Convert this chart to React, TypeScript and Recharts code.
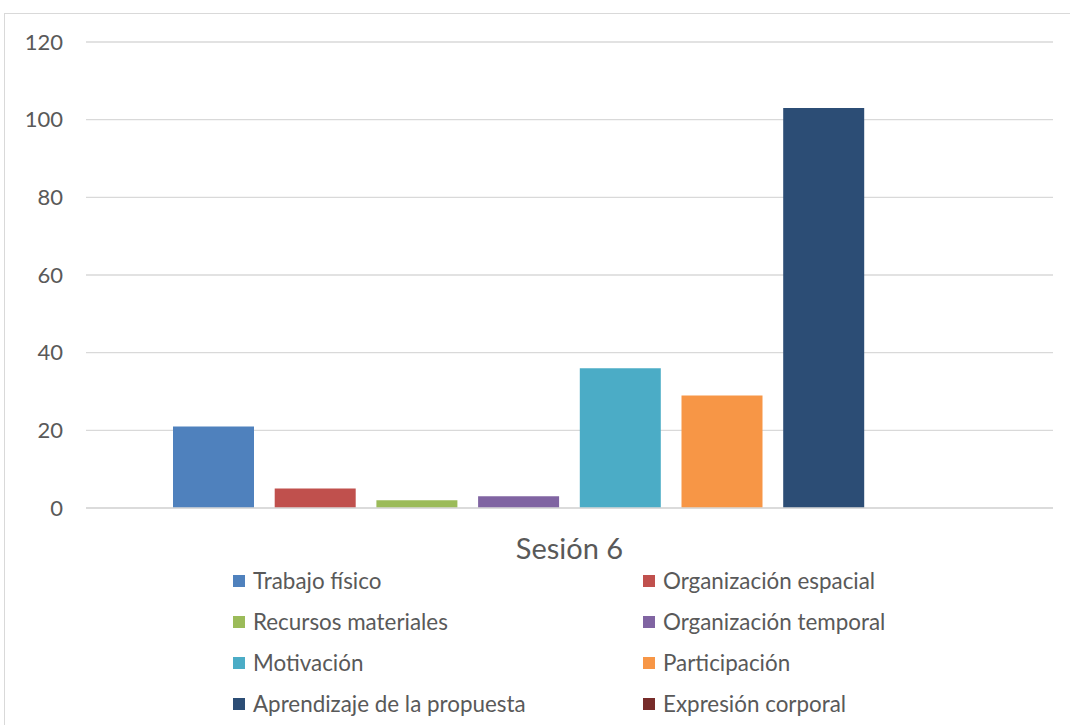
import React from 'react';
import { BarChart, Bar, XAxis, YAxis, CartesianGrid, Legend } from 'recharts';

if (typeof document !== 'undefined') {
  document.body.style.margin = '0';
}

const categories = ['Sesión 6'];
const seriesNames = [
  'Trabajo físico',
  'Organización espacial',
  'Recursos materiales',
  'Organización temporal',
  'Motivación',
  'Participación',
  'Aprendizaje de la propuesta',
  'Expresión corporal',
];
const seriesValues = [21, 5, 2, 3, 36, 29, 103, 0];
const seriesColors = ['#4F81BD', '#C0504D', '#9BBB59', '#8064A2', '#4BACC6', '#F79646', '#2C4D75', '#772C2A'];
const yTicks = [0, 20, 40, 60, 80, 100, 120];

const data = categories.map((c) => {
  const row: Record<string, string | number> = { name: c };
  seriesNames.forEach((s, i) => {
    row[s] = seriesValues[i];
  });
  return row;
});

const FONT = 'Lato, sans-serif';
const TEXT = '#595959';

const LegendContent = () => {
  return (
    <div
      style={{
        display: 'grid',
        gridTemplateColumns: '410px 400px',
        gridAutoRows: '41px',
        paddingLeft: 233,
        fontFamily: FONT,
        fontSize: 22.4,
        color: TEXT,
      }}
    >
      {seriesNames.map((name, i) => (
        <div key={name} style={{ display: 'flex', alignItems: 'center', whiteSpace: 'nowrap' }}>
          <span style={{ display: 'inline-block', width: 12, height: 12, background: seriesColors[i], marginRight: 8 }} />
          <span>{name}</span>
        </div>
      ))}
    </div>
  );
};

export default function App() {
  return (
    <div style={{ position: 'relative', width: 1070, height: 725, background: '#fff', overflow: 'hidden' }}>
      <div
        style={{
          position: 'absolute',
          left: 4,
          top: 13,
          width: 1100,
          height: 750,
          border: '1px solid #d9d9d9',
          boxSizing: 'border-box',
        }}
      />
      <div style={{ position: 'absolute', left: 0, top: 0 }}>
        <BarChart
          width={1070}
          height={725}
          data={data}
          margin={{ top: 42, right: 17, left: 0, bottom: 157 }}
          barSize={81}
          barGap={20.7}
        >
          <CartesianGrid vertical={false} stroke="#d9d9d9" strokeWidth={1.3} />
          <XAxis
            dataKey="name"
            height={60}
            tickLine={false}
            axisLine={{ stroke: '#d9d9d9', strokeWidth: 1.3 }}
            tickSize={0}
            tickMargin={30}
            tick={{ fill: TEXT, fontSize: 29, fontFamily: FONT }}
          />
          <YAxis
            width={86}
            domain={[0, 120]}
            ticks={yTicks}
            tickLine={false}
            axisLine={false}
            tickSize={0}
            tickMargin={23}
            tick={{ fill: TEXT, fontSize: 22, fontFamily: FONT }}
          />
          <Legend
            verticalAlign="middle"
            align="center"
            layout="horizontal"
            content={<LegendContent />}
            wrapperStyle={{ top: 560, left: 0, width: 1070 }}
          />
          {seriesNames.map((s, i) => (
            <Bar key={s} dataKey={s} fill={seriesColors[i]} isAnimationActive={false} />
          ))}
        </BarChart>
      </div>
    </div>
  );
}
